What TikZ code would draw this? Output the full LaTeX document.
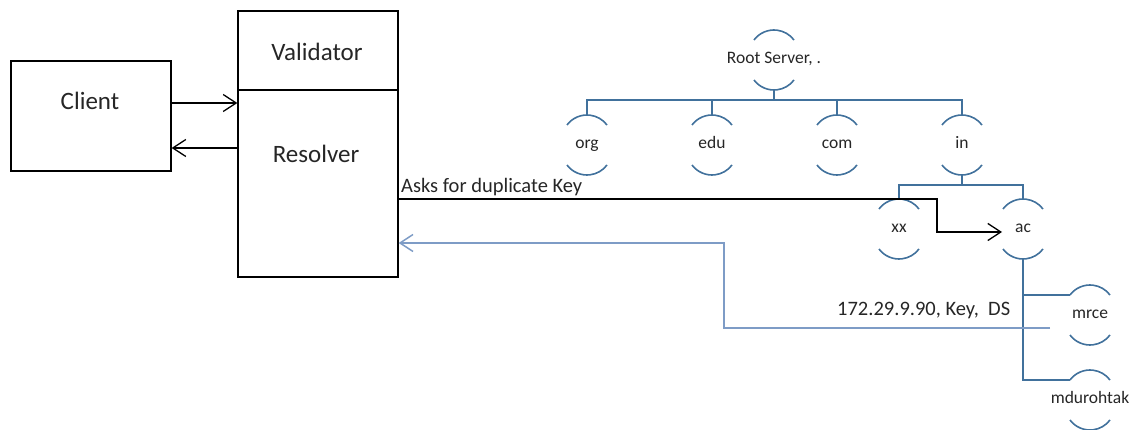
\documentclass[tikz,border=0pt]{standalone}
\usepackage{fontspec}
\setmainfont{Carlito}
\usetikzlibrary{arrows.meta,calc}
\definecolor{treeblue}{HTML}{41719C}
\definecolor{retblue}{HTML}{7E9CC6}
\definecolor{inkgray}{HTML}{262626}
\tikzset{
  box/.style={draw=black,line width=1.3pt,inner sep=0pt,minimum width=160pt},
  biglabel/.style={font=\fontsize{25}{30}\selectfont,text=inkgray,inner sep=0pt,anchor=base},
  msglabel/.style={font=\fontsize{20.5}{24}\selectfont,text=inkgray,inner sep=0pt,anchor=base west},
  dnslabel/.style={font=\fontsize{17.5}{21}\selectfont,text=inkgray,inner sep=0pt,text height=1.6ex,text depth=0.2ex},
  treeline/.style={draw=treeblue,line width=1.9pt},
  arcline/.style={draw=treeblue,line width=1.6pt},
  blackarrow/.style={draw=black,line width=1.3pt,-{Straight Barb[length=13pt,width=17pt,line width=1.3pt]}},
  bluearrow/.style={draw=retblue,line width=1.5pt,-{Straight Barb[length=13pt,width=17pt,line width=1.5pt]}},
}
\begin{document}
\begin{tikzpicture}[x=1pt,y=-1pt]
\useasboundingbox (0,0) rectangle (1132,430);

% client and validating resolver
\node[box,minimum height=110pt] (client) at (91,116) {};
\node[box,minimum height=79pt] (validator) at (318,50.5) {};
\node[box,minimum height=187pt] (resolver) at (318,183.5) {};
\node[biglabel] (clientlbl) at (90,110) {Client};
\node[biglabel] (validatorlbl) at (317,61) {Validator};
\node[biglabel] (resolverlbl) at (316,163) {Resolver};

% DNS hierarchy labels
\node[dnslabel] (root) at (774,60) {Root Server, .};
\node[dnslabel] (org) at (587,145) {org};
\node[dnslabel] (edu) at (712,145) {edu};
\node[dnslabel] (com) at (837,145) {com};
\node[dnslabel] (in) at (962,145) {in};
\node[dnslabel] (xx) at (899,229) {xx};
\node[dnslabel] (ac) at (1023,229) {ac};
\node[dnslabel] (mrce) at (1090,315) {mrce};
\node[dnslabel] (mdurohtak) at (1090,400) {mdurohtak};

% bracket arcs above and below every zone name
\foreach \n in {root,org,edu,com,in,xx,ac,mrce,mdurohtak} {
  \coordinate (\n-top) at ($(\n)+(0,-30)$);
  \coordinate (\n-bot) at ($(\n)+(0,30)$);
  \coordinate (\n-tl) at ($(\n)+(-20,-20)$);
  \draw[arcline] (\n-tl) arc[start angle=216.87,end angle=323.13,radius=25];
  \draw[arcline] ($(\n)+(-20,20)$) arc[start angle=143.13,end angle=36.87,radius=25];
}

% tree connectors
\coordinate (bus1) at ($(root-bot)+(0,10)$);
\coordinate (bus2) at ($(in-bot)+(0,10)$);
\draw[treeline] (root-bot) -- (bus1);
\draw[treeline] (org-top) |- (bus1) -| (in-top);
\draw[treeline] (edu-top) -- (edu-top |- bus1);
\draw[treeline] (com-top) -- (com-top |- bus1);
\draw[treeline] (in-bot) -- (bus2);
\draw[treeline] (xx-top) |- (bus2) -| (ac-top);
\draw[treeline] (ac-bot) |- (mrce-tl);
\draw[treeline] (ac-bot) |- (mdurohtak-tl);

% client <-> resolver
\coordinate (req) at (200,103);
\coordinate (resp) at (200,148);
\draw[blackarrow] (req -| client.east) -- (req -| resolver.west);
\draw[blackarrow] (resp -| resolver.west) -- (resp -| client.east);

% query to the ac zone
\coordinate (askbend) at (937,199);
\coordinate (asktip) at ($(ac)+(-21,3)$);
\draw[blackarrow] (askbend -| resolver.east) -- (askbend) |- (asktip);
\node[msglabel] (asklbl) at (401,193) {Asks for duplicate Key};

% answer back to the resolver
\coordinate (dsend) at (1050,328);
\coordinate (retbend) at (724,243);
\draw[bluearrow] (dsend) -| (retbend) -- (retbend -| resolver.east);
\node[msglabel] (dslbl) at (837,315) {172.29.9.90, Key,\ \ DS};
\end{tikzpicture}
\end{document}
